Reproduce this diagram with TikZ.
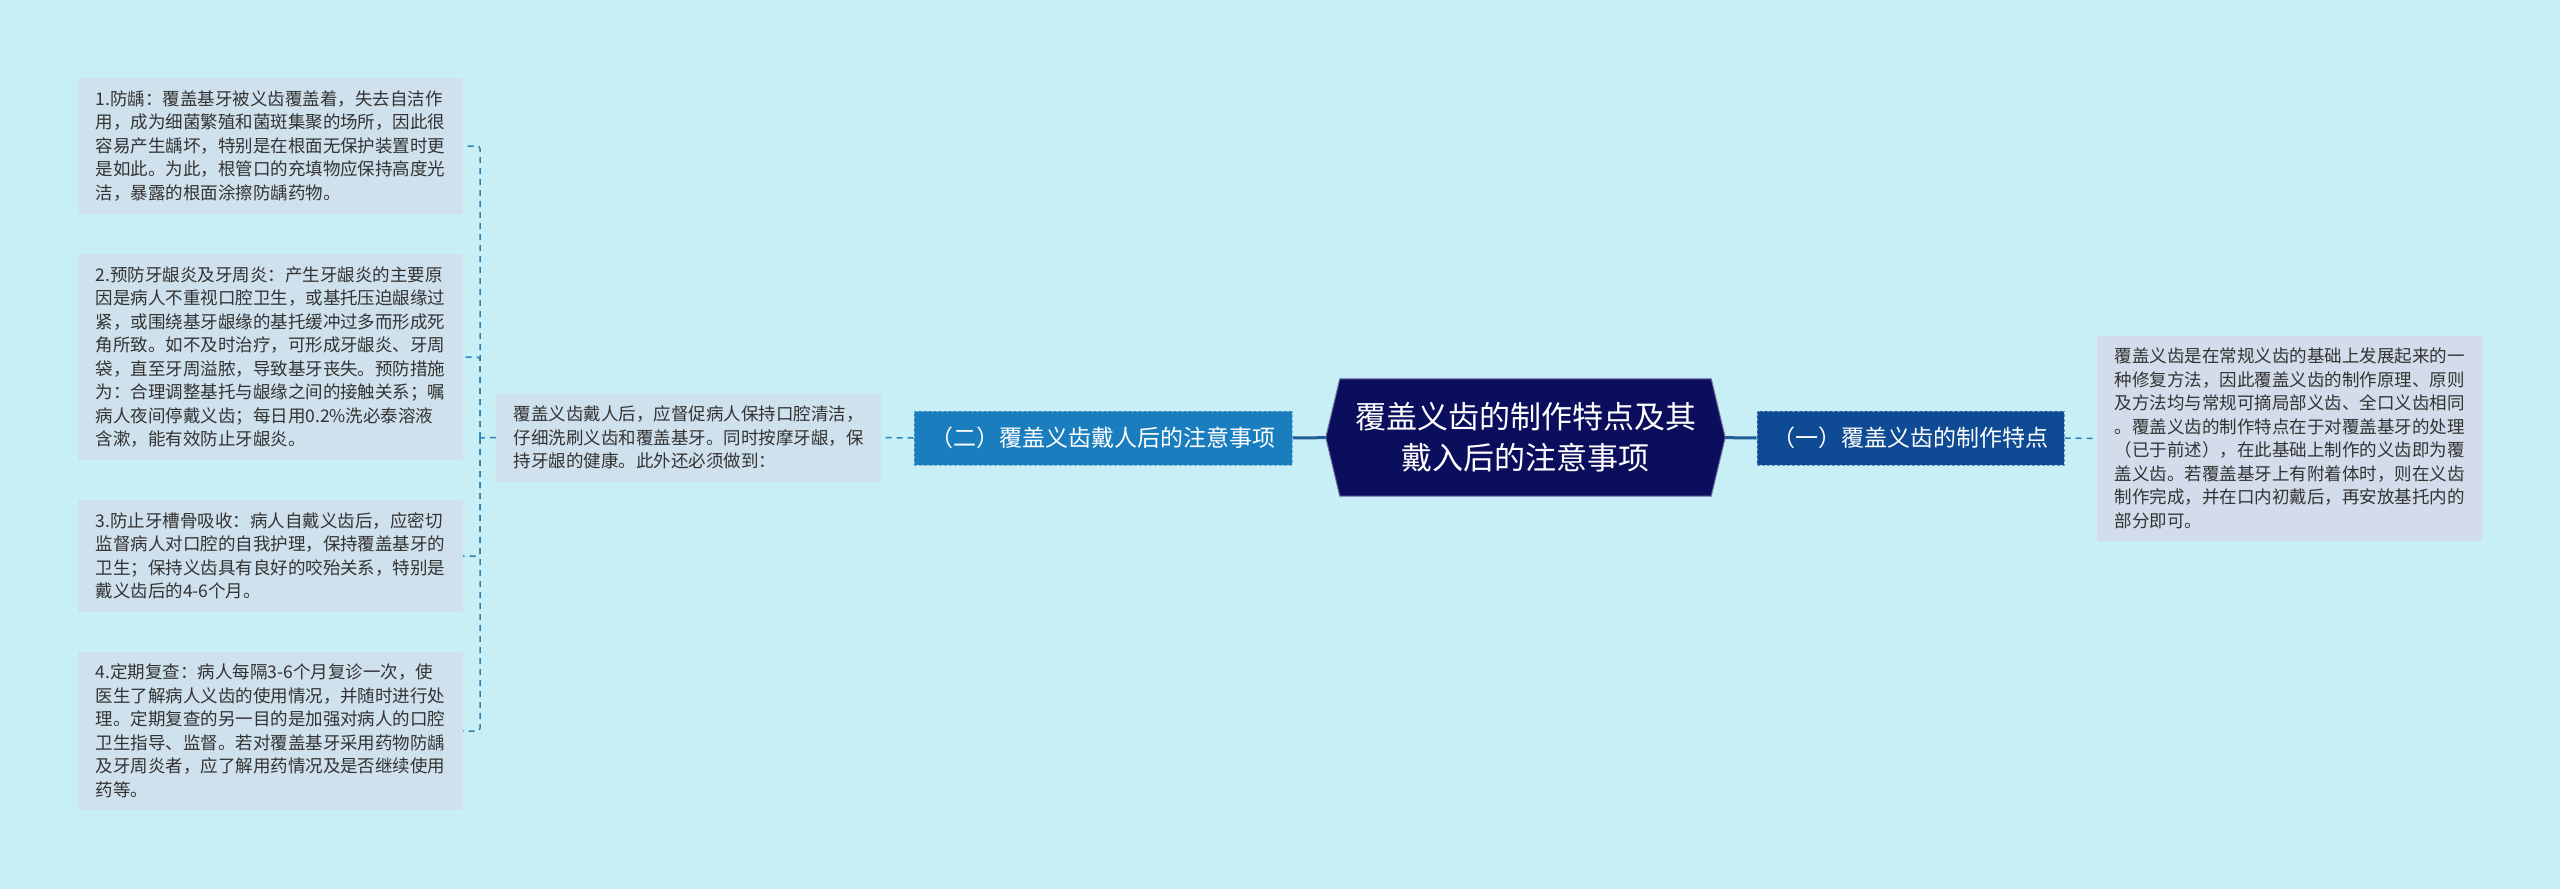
\documentclass[tikz,border=0pt]{standalone}
\usepackage{fontspec}
\setmainfont{Noto Sans CJK SC}
\usepackage{tikz}
\usetikzlibrary{positioning, backgrounds}
\usepackage{xcolor}

\definecolor{bgcyan}{HTML}{C9EFF6}
\definecolor{leafgray}{HTML}{CFE1EC}
\definecolor{leafblue}{HTML}{D2DCEA}
\definecolor{textgray}{HTML}{333333}
\definecolor{rootnavy}{HTML}{0B0E5C}
\definecolor{midblue}{HTML}{1A7DBE}
\definecolor{deepblue}{HTML}{0F4A94}
\definecolor{linkblue}{HTML}{2C84B4}
\definecolor{mainline}{HTML}{1F5E96}

\begin{document}
\begin{tikzpicture}[x=1pt, y=-1pt,
    leaf/.style={rectangle, fill=leafgray, text=textgray, align=left, minimum width=385pt, inner xsep=10pt, inner ysep=12.5pt, font=\fontsize{17.5pt}{23.5pt}\selectfont},
    branch/.style={rectangle, draw, densely dashed, line width=1pt, text=white, minimum height=54pt, inner sep=0pt, font=\fontsize{23pt}{27pt}\selectfont},
    rootbox/.style={rectangle, text=white, align=center, minimum width=371pt, minimum height=117pt, inner sep=0pt, font=\fontsize{31pt}{41pt}\selectfont},
    dashlink/.style={linkblue, line width=1.5pt, dash pattern=on 6pt off 5pt, rounded corners=3pt},
    mainlink/.style={mainline, line width=3pt}
]
\useasboundingbox (0,0) rectangle (2560,889);

% centre
\node[rootbox] (root) at (1525.5, 437.5) {覆盖义齿的制作特点及其\\戴入后的注意事项};

% (二) side
\node[branch, fill=midblue, draw=midblue!60!white, minimum width=378pt] (care) at (1103, 438) {（二）覆盖义齿戴人后的注意事项};
\node[leaf, minimum width=385pt] (careintro) at (688.5, 437.5) {覆盖义齿戴人后，应督促病人保持口腔清洁，\\仔细洗刷义齿和覆盖基牙。同时按摩牙龈，保\\持牙龈的健康。此外还必须做到：};
\node[leaf] (caries) at (270.5, 146) {1.防龋：覆盖基牙被义齿覆盖着，失去自洁作\\用，成为细菌繁殖和菌斑集聚的场所，因此很\\容易产生龋坏，特别是在根面无保护装置时更\\是如此。为此，根管口的充填物应保持高度光\\洁，暴露的根面涂擦防龋药物。};
\node[leaf] (gingiva) at (270.5, 357) {2.预防牙龈炎及牙周炎：产生牙龈炎的主要原\\因是病人不重视口腔卫生，或基托压迫龈缘过\\紧，或围绕基牙龈缘的基托缓冲过多而形成死\\角所致。如不及时治疗，可形成牙龈炎、牙周\\袋，直至牙周溢脓，导致基牙丧失。预防措施\\为：合理调整基托与龈缘之间的接触关系；嘱\\病人夜间停戴义齿；每日用0.2\%洗必泰溶液\\含漱，能有效防止牙龈炎。};
\node[leaf] (bone) at (270.5, 556) {3.防止牙槽骨吸收：病人自戴义齿后，应密切\\监督病人对口腔的自我护理，保持覆盖基牙的\\卫生；保持义齿具有良好的咬殆关系，特别是\\戴义齿后的4-6个月。};
\node[leaf] (review) at (270.5, 731) {4.定期复查：病人每隔3-6个月复诊一次，使\\医生了解病人义齿的使用情况，并随时进行处\\理。定期复查的另一目的是加强对病人的口腔\\卫生指导、监督。若对覆盖基牙采用药物防龋\\及牙周炎者，应了解用药情况及是否继续使用\\药等。};

% (一) side
\node[branch, fill=deepblue, draw=deepblue!60!white, minimum width=307pt] (making) at (1910.5, 438) {（一）覆盖义齿的制作特点};
\node[leaf, fill=leafblue] (makingtext) at (2289.5, 438.5) {覆盖义齿是在常规义齿的基础上发展起来的一\\种修复方法，因此覆盖义齿的制作原理、原则\\及方法均与常规可摘局部义齿、全口义齿相同\\。覆盖义齿的制作特点在于对覆盖基牙的处理\\（已于前述），在此基础上制作的义齿即为覆\\盖义齿。若覆盖基牙上有附着体时，则在义齿\\制作完成，并在口内初戴后，再安放基托内的\\部分即可。};

\coordinate (spine) at (480, 438);

\begin{scope}[on background layer]
\fill[bgcyan] (0,0) rectangle (2560,889);
% links
\draw[mainlink] (root.west) -- (care.east);
\draw[mainlink] (root.east) -- (making.west);
\draw[dashlink] (care.west) -- (careintro.east);
\draw[dashlink] (making.east) -- (makingtext.west);
\draw[dashlink] (careintro.west) -- (spine);
\foreach \n in {caries, gingiva, bone, review}
    \draw[dashlink] (spine) |- (\n.east);
% root outline
\fill[rootnavy, draw=rootnavy!60!white, line width=1pt] (root.north west) -- (root.north east) -- ([xshift=14pt]root.east) -- (root.south east) -- (root.south west) -- ([xshift=-14pt]root.west) -- cycle;
\end{scope}

\end{tikzpicture}
\end{document}
